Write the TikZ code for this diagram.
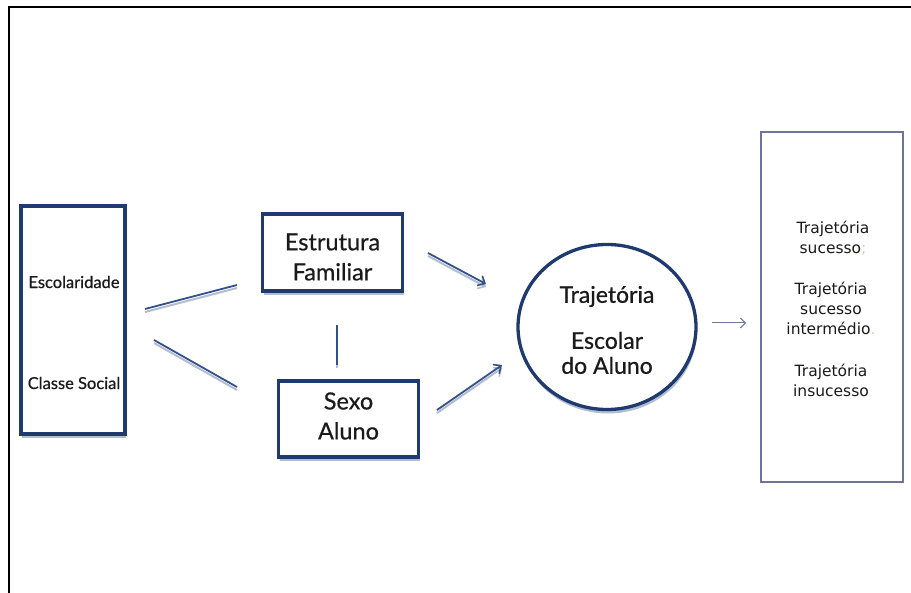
\documentclass[tikz,border=0pt]{standalone}
\usepackage{fontspec}
\setmainfont{Lato}[UprightFeatures={FakeBold=0.6}]
\newfontfamily\rbfont{DejaVu Sans}
\usetikzlibrary{arrows.meta,shapes.geometric}
\definecolor{navy}{HTML}{1F3A6E}
\definecolor{shade}{HTML}{B3BDD2}
\definecolor{slate}{HTML}{6E7597}
\definecolor{txt}{HTML}{1A1A1A}
\definecolor{conn}{HTML}{34508A}
\definecolor{faint}{HTML}{F2C9A0}
\begin{document}
\begin{tikzpicture}[x=1pt,y=-1pt,
  navybox/.style={rectangle, draw=navy, line width=3.3pt, fill=white, inner sep=0pt,
    preaction={fill=shade, transform canvas={shift={(1pt,-4pt)}}}},
  bigtxt/.style={font=\fontsize{23.5}{30}\selectfont, text=txt, align=center, inner sep=0pt},
  smalltxt/.style={font=\fontsize{16.5}{18}\selectfont, text=txt, inner sep=0pt},
  rtxt/.style={font=\rbfont\fontsize{15.5}{20}\selectfont, text=txt, align=center, inner sep=0pt},
  connline/.style={draw=conn, line width=1.8pt,
    preaction={draw=shade, line width=2pt, transform canvas={yshift=-3pt}}},
  connarrow/.style={connline, -{Straight Barb[length=6pt,width=11pt,line width=1.6pt]}},
  outarrow/.style={draw=slate, line width=1pt, -{Straight Barb[length=5pt,width=10pt]}}
]
\useasboundingbox (0,0) rectangle (911,593);
% frame
\draw[line width=2pt] (9,593) -- (9,7) -- (911,7);

% left box
\node[navybox, minimum width=104pt, minimum height=228pt] (left) at (73,320) {};
\node[smalltxt] (esc) at (74,282) {Escolaridade};
\node[smalltxt] (cls) at (74,383) {Classe Social};

% middle boxes
\node[navybox, minimum width=140pt, minimum height=77pt] (estr) at (332.5,252.5) {};
\node[bigtxt] (estrt) at (332.5,257) {Estrutura\\Familiar};
\node[navybox, minimum width=140pt, minimum height=76pt] (sexo) at (348.5,419) {};
\node[bigtxt] (sexot) at (348.5,416) {Sexo\\Aluno};

% circle
\node[ellipse, draw=navy, line width=3.3pt, fill=white, inner sep=0pt,
  minimum width=178pt, minimum height=165pt,
  preaction={fill=shade, transform canvas={shift={(1pt,-4pt)}}}] (circ) at (607,327) {};
\node[bigtxt, font=\fontsize{23}{25}\selectfont] (circt) at (607,330) {Trajetória\\[21pt]Escolar\\do Aluno};

% right box
\node[rectangle, draw=slate, line width=2.5pt, fill=white, inner sep=0pt,
  minimum width=142pt, minimum height=350pt] (right) at (832,307) {};
\node[rtxt] (r1) at (833,238) {Trajetória\\sucesso\textcolor{faint}{;}};
\node[rtxt] (r2) at (831,308) {Trajetória\\sucesso\\intermédio\textcolor{faint}{.}};
\node[rtxt] (r3) at (831,380) {Trajetória\\insucesso};

% connector end points
\coordinate (l1a) at (145,309);
\coordinate (l1b) at (237,285);
\coordinate (l2a) at (154,340);
\coordinate (l2b) at (237,387);
\coordinate (va) at (337,325);
\coordinate (vb) at (337,365);
\coordinate (a1a) at (428,253);
\coordinate (a1b) at (486,284);
\coordinate (a2a) at (437,410);
\coordinate (a2b) at (502,365);
\coordinate (a3a) at (712,323);
\coordinate (a3b) at (746,323);

\draw[connline] (l1a) -- (l1b);
\draw[connline] (l2a) -- (l2b);
\draw[connline] (va) -- (vb);
\draw[connarrow] (a1a) -- (a1b);
\draw[connarrow] (a2a) -- (a2b);
\draw[outarrow] (a3a) -- (a3b);
\end{tikzpicture}
\end{document}
